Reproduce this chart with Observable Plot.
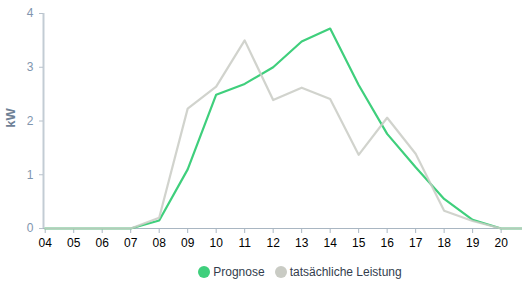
<!DOCTYPE html>
<html>
<head>
<meta charset="utf-8">
<script src="https://cdn.jsdelivr.net/npm/d3@7"></script>
<script src="https://cdn.jsdelivr.net/npm/@observablehq/plot@0.6"></script>
<style>
  body { margin: 0; background: #fff; font-family: Arial, "Liberation Sans", sans-serif; overflow: hidden; }
  #chart { position: relative; width: 522px; overflow: hidden; }
  #chart svg { overflow: hidden; }
  .legend { display: flex; justify-content: center; align-items: center; font-size: 12px; color: #333d4d; margin-top: 10px; padding-left: 78px; }
  .legend span.item { display: flex; align-items: center; margin: 0 5px; }
  .legend span.dot { width: 12px; height: 12px; border-radius: 50%; display: inline-block; margin-right: 3px; }
</style>
</head>
<body>
<div id="chart"></div>
<script>
const hours = [4, 5, 6, 7, 8, 9, 10, 11, 12, 13, 14, 15, 16, 17, 18, 19, 20, 21];
const prognose = [0, 0, 0, 0, 0.15, 1.1, 2.49, 2.69, 3.0, 3.48, 3.72, 2.67, 1.76, 1.14, 0.55, 0.16, 0, 0];
const actual = [0, 0, 0, 0, 0.2, 2.23, 2.64, 3.5, 2.39, 2.62, 2.41, 1.37, 2.06, 1.39, 0.33, 0.14, 0, 0];
const xTicks = [4, 5, 6, 7, 8, 9, 10, 11, 12, 13, 14, 15, 16, 17, 18, 19, 20];
const yTicks = [0, 1, 2, 3, 4];
const seriesNames = ["Prognose", "tatsächliche Leistung"];
const seriesColors = ["#3fcf7c", "#c9cbc4"];

const progData = hours.map((h, i) => ({h, v: prognose[i]}));
const actData = hours.map((h, i) => ({h, v: actual[i]}));

const plot = Plot.plot({
  width: 522,
  height: 255,
  marginLeft: 43,
  marginRight: 0,
  marginTop: 13,
  marginBottom: 27,
  style: {fontFamily: "Arial, 'Liberation Sans', sans-serif", fontSize: "12px", background: "#fff", overflow: "hidden"},
  x: {domain: [3.94, 20.75]},
  y: {domain: [0, 4]},
  marks: [
    Plot.ruleX([3.94], {stroke: "#c3ccd4", strokeWidth: 2}),
    Plot.axisY({ticks: yTicks, tickSize: 4, tickPadding: 6, stroke: "#b8c2cc", color: "#7f95ae", fontSize: 12, label: null, tickFormat: d => d}),
    Plot.text(["kW"], {frameAnchor: "left", textAnchor: "middle", dx: -33, dy: -3, rotate: -90, fontWeight: "bold", fill: "#6f8196", fontSize: 13}),
    Plot.axisX({ticks: xTicks, tickSize: 5, tickPadding: 5, stroke: "#a9b6c2", color: "#000", fontSize: 12, label: null, tickFormat: d => String(d).padStart(2, "0")}),
    Plot.ruleY([0], {stroke: "#a9b6c2", strokeWidth: 1}),
    Plot.line(progData, {x: "h", y: "v", stroke: seriesColors[0], strokeWidth: 2.2}),
    Plot.line(actData, {x: "h", y: "v", stroke: seriesColors[1], strokeWidth: 2.2, strokeOpacity: 0.85})
  ]
});
document.getElementById("chart").appendChild(plot);

const legend = document.createElement("div");
legend.className = "legend";
seriesNames.forEach((n, i) => {
  const it = document.createElement("span");
  it.className = "item";
  it.innerHTML = `<span class="dot" style="background:${seriesColors[i]}"></span>${n}`;
  legend.appendChild(it);
});
document.getElementById("chart").appendChild(legend);
</script>
</body>
</html>
